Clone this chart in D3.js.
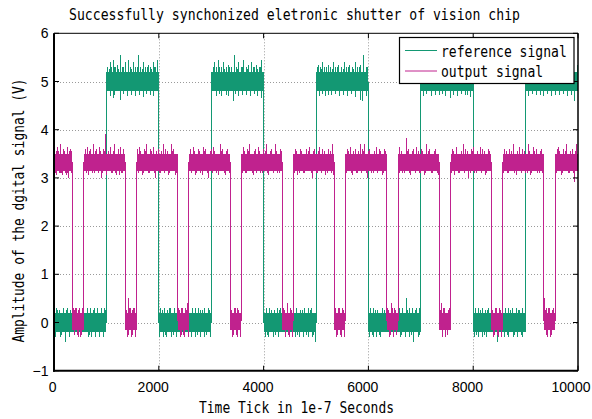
<!DOCTYPE html>
<html><head><meta charset="utf-8">
<script src="https://cdn.jsdelivr.net/npm/d3@7"></script>
<style>body{margin:0;background:#fff}svg{display:block}</style>
</head><body>
<script>
// ---------- data ----------
const titleText = "Successfully synchonized eletronic shutter of vision chip";
const xLabelText = "Time Tick in 1e-7 Seconds";
const yLabelText = "Amplitude of the dgital signal (V)";
const seriesNames = ["reference signal", "output signal"];
const xTicks = [0, 2000, 4000, 6000, 8000, 10000];
const xTickLabels = ["0", "2000", "4000", "6000", "8000", "10000"];
const yTicks = [-1, 0, 1, 2, 3, 4, 5, 6];
const yTickLabels = ["\u22121", "0", "1", "2", "3", "4", "5", "6"];

// reference signal: [start, end, bandLow, bandHigh]
const refSegments = [
  [0,1000,-0.2,0.2],[1000,2000,4.8,5.2],[2000,3000,-0.2,0.2],[3000,4000,4.8,5.2],
  [4000,5000,-0.2,0.2],[5000,6000,4.8,5.2],[6000,7000,-0.2,0.2],[7000,8000,4.8,5.2],
  [8000,9000,-0.2,0.2],[9000,10000,4.8,5.2]
];
// reference signal noise spikes: [t, value]
const refSpikes = [
  [0,5.1],
  [40,0.3],[110,0.25],[180,0.3],[260,0.3],[320,0.25],[640,0.3],[700,0.3],[760,0.25],[830,0.3],[900,0.3],[960,0.3],
  [30,-0.3],[120,-0.3],[210,-0.4],[290,-0.3],[650,-0.3],[720,-0.3],[800,-0.3],[870,-0.3],[940,-0.3],
  [70,0.25],[150,-0.25],[230,0.25],[680,-0.25],[780,0.3],[860,-0.25],[990,0.25],
  [1030,5.3],[1069,5.4],[1100,5.3],[1132,5.45],[1180,5.3],[1215,5.35],[1260,5.55],[1300,5.3],[1355,5.4],[1418,5.45],[1460,5.3],
  [1514,5.4],[1560,5.3],[1622,5.55],[1660,5.3],[1705,5.4],[1750,5.3],[1800,5.35],[1850,5.3],[1895,5.4],[1940,5.3],[1972,5.45],
  [1050,5.25],[1150,5.3],[1240,5.25],[1330,5.3],[1480,5.25],[1590,5.3],[1680,5.25],[1780,5.3],[1870,5.25],[1920,5.3],
  [1080,4.7],[1132,4.65],[1260,4.62],[1400,4.7],[1550,4.7],[1640,4.72],[1700,4.68],[1900,4.7],[1990,4.7],
  [1160,4.72],[1320,4.75],[1480,4.72],[1760,4.75],[1850,4.72],
  [2040,0.3],[2100,0.3],[2170,0.25],[2230,0.3],[2300,0.3],[2650,0.3],[2700,0.3],[2760,0.3],[2830,0.25],[2880,0.3],[2950,0.3],
  [2020,-0.3],[2090,-0.3],[2150,-0.3],[2250,-0.3],[2330,-0.3],[2620,-0.3],[2700,-0.3],[2800,-0.3],[2870,-0.3],[2980,-0.3],
  [2070,0.25],[2130,-0.25],[2200,0.3],[2280,-0.25],[2730,-0.25],[2790,0.25],[2910,-0.25],[2970,0.25],
  [3040,5.3],[3072,5.4],[3110,5.3],[3136,5.45],[3190,5.3],[3244,5.4],[3290,5.3],[3327,5.35],[3390,5.3],[3442,5.55],[3480,5.3],
  [3518,5.4],[3570,5.3],[3614,5.45],[3680,5.3],[3720,5.35],[3773,5.4],[3820,5.3],[3868,5.35],[3920,5.3],[3963,5.45],
  [3060,5.25],[3160,5.3],[3260,5.25],[3350,5.3],[3500,5.25],[3590,5.3],[3700,5.25],[3800,5.3],[3890,5.25],[3940,5.3],
  [3100,4.7],[3200,4.7],[3330,4.7],[3420,4.6],[3520,4.7],[3600,4.72],[3750,4.7],[3880,4.7],[3960,4.65],
  [3150,4.75],[3300,4.72],[3460,4.75],[3680,4.72],[3820,4.75],
  [4050,0.3],[4120,0.3],[4200,0.25],[4260,0.3],[4320,0.3],[4620,0.3],[4700,0.25],[4780,0.3],[4850,0.3],[4920,0.3],
  [4030,-0.3],[4100,-0.3],[4180,-0.3],[4280,-0.3],[4600,-0.3],[4680,-0.3],[4760,-0.3],[4850,-0.3],[4930,-0.3],[4981,-0.4],
  [4080,-0.25],[4150,0.25],[4230,-0.25],[4300,0.25],[4650,-0.25],[4740,0.25],[4810,-0.25],[4890,0.25],[4960,-0.25],
  [5040,5.35],[5080,5.3],[5130,5.4],[5170,5.3],[5230,5.35],[5280,5.3],[5330,5.4],[5380,5.3],[5430,5.35],[5490,5.3],
  [5540,5.4],[5590,5.3],[5640,5.35],[5700,5.3],[5750,5.4],[5800,5.3],[5850,5.35],[5916,5.55],[5960,5.3],
  [5020,5.3],[5110,5.25],[5200,5.3],[5320,5.25],[5410,5.3],[5520,5.25],[5620,5.3],[5720,5.25],[5830,5.3],[5980,5.3],
  [5060,4.7],[5180,4.7],[5300,4.72],[5450,4.7],[5600,4.7],[5760,4.68],[5840,4.62],[5880,4.6],[5960,4.7],
  [5120,4.75],[5240,4.72],[5380,4.75],[5520,4.72],[5680,4.75],
  [6040,0.3],[6100,0.3],[6180,0.25],[6260,0.3],[6600,0.3],[6660,0.3],[6718,0.5],[6780,0.3],[6850,0.3],[6920,0.3],[6980,0.3],
  [6020,-0.3],[6090,-0.3],[6160,-0.3],[6240,-0.3],[6620,-0.3],[6700,-0.3],[6780,-0.3],[6865,-0.4],[6950,-0.3],
  [6070,-0.25],[6140,0.25],[6210,-0.25],[6300,0.25],[6640,-0.25],[6740,0.25],[6820,-0.25],[6890,0.25],[6970,-0.25],
  [7040,5.3],[7120,5.4],[7250,5.35],[7400,5.3],[7550,5.4],[7700,5.35],[7880,5.3],
  [7050,4.7],[7200,4.7],[7350,4.72],[7480,4.7],[7560,4.65],[7700,4.7],[7850,4.72],[7950,4.68],
  [7100,4.75],[7280,4.72],[7420,4.75],[7630,4.72],[7780,4.75],[7900,4.72],
  [8040,0.3],[8100,0.3],[8170,0.3],[8240,0.25],[8300,0.3],[8620,0.3],[8680,0.3],[8750,0.3],[8820,0.3],[8880,0.25],[8950,0.3],
  [8030,-0.3],[8100,-0.3],[8180,-0.3],[8260,-0.3],[8460,-0.4],[8600,-0.3],[8680,-0.3],[8760,-0.3],[8850,-0.3],[8940,-0.3],
  [8070,-0.25],[8140,0.25],[8210,-0.25],[8280,0.25],[8650,-0.25],[8720,0.25],[8790,-0.25],[8860,0.25],[8920,-0.25],[8990,0.25],
  [9060,4.7],[9200,4.72],[9350,4.7],[9500,4.7],[9650,4.72],[9800,4.7],[9925,4.6],
  [9130,4.75],[9280,4.72],[9420,4.75],[9580,4.72],[9720,4.75],[9870,4.72],
  [9100,5.35],[9400,5.3],[9700,5.4],[9990,5.35]
];

// output signal: [start, end, bandLow, bandHigh]
const outSegments = [
  [0,350,3.15,3.5],[350,570,-0.15,0.2],[570,1355,3.15,3.5],[1355,1575,-0.15,0.2],
  [1575,2360,3.15,3.5],[2360,2575,-0.15,0.2],[2575,3360,3.15,3.5],[3360,3570,-0.15,0.2],
  [3570,4360,3.15,3.5],[4360,4570,-0.15,0.2],[4570,5350,3.15,3.5],[5350,5560,-0.15,0.2],
  [5560,6350,3.15,3.5],[6350,6570,-0.15,0.2],[6570,7350,3.15,3.5],[7350,7570,-0.15,0.2],
  [7570,8340,3.15,3.5],[8340,8560,-0.15,0.2],[8560,9345,3.15,3.5],[9345,9565,-0.15,0.2],
  [9565,10000,3.15,3.5]
];
const outSpikes = [
  [15,3.6],[40,3.05],[70,3.65],[100,3.1],[130,3.7],[160,3.05],[190,3.6],[220,3.1],[250,3.65],[280,3.0],[310,3.6],[335,3.1],
  [20,3.1],[55,3.55],[85,3.55],[115,3.1],[145,3.1],[175,3.55],[205,3.55],[235,3.05],[265,3.1],[295,3.55],[325,3.55],
  [600,3.6],[636,3.65],[660,3.05],[700,3.6],[751,3.7],[780,3.1],[820,3.6],[859,3.65],[900,3.0],[940,3.6],[980,3.92],[1010,3.05],
  [1069,3.65],[1110,3.1],[1164,3.7],[1200,3.05],[1230,3.6],[1260,3.65],[1300,3.1],[1330,3.6],
  [620,3.1],[680,3.55],[730,3.1],[800,3.55],[840,3.1],[880,3.55],[920,3.1],[960,3.55],[1040,3.55],[1090,3.1],[1140,3.55],
  [1180,3.1],[1250,3.05],[1280,3.1],[1320,3.55],
  [1600,3.6],[1641,3.65],[1680,3.05],[1720,3.6],[1769,3.7],[1800,3.1],[1850,3.6],[1896,3.65],[1940,3.0],[1990,3.6],
  [2040,3.1],[2087,3.7],[2130,3.6],[2180,3.05],[2246,3.7],[2290,3.6],[2330,3.1],
  [1620,3.1],[1660,3.55],[1700,3.1],[1740,3.55],[1830,3.1],[1870,3.55],[1920,3.1],[1960,3.55],[2010,3.1],[2060,3.55],
  [2110,3.1],[2160,3.55],[2210,3.1],[2270,3.55],[2310,3.05],
  [2600,3.6],[2659,3.65],[2700,3.05],[2750,3.6],[2800,3.1],[2850,3.65],[2900,3.6],[2950,3.0],[3000,3.6],[3041,3.65],
  [3100,3.1],[3168,3.7],[3220,3.6],[3270,3.05],[3320,3.6],
  [2620,3.1],[2680,3.55],[2720,3.1],[2780,3.55],[2830,3.05],[2880,3.55],[2930,3.1],[2980,3.55],[3020,3.1],[3070,3.55],
  [3130,3.05],[3200,3.55],[3250,3.1],[3300,3.55],[3340,3.1],
  [3613,3.65],[3650,3.1],[3700,3.6],[3740,3.7],[3800,3.05],[3850,3.6],[3899,3.65],[3950,3.1],[4000,3.6],[4059,3.7],
  [4100,3.05],[4160,3.6],[4218,3.7],[4270,3.1],[4320,3.6],
  [3590,3.1],[3630,3.55],[3680,3.1],[3720,3.55],[3780,3.1],[3820,3.55],[3870,3.1],[3920,3.55],[3980,3.1],[4030,3.55],
  [4080,3.1],[4130,3.55],[4190,3.1],[4240,3.55],[4300,3.1],[4340,3.55],
  [4600,3.6],[4650,3.05],[4700,3.6],[4760,3.1],[4820,3.6],[4885,3.65],[4930,3.0],[4980,3.6],[5030,3.1],[5076,3.65],
  [5130,3.6],[5180,3.05],[5240,3.6],[5290,3.1],[5318,3.7],
  [4590,3.1],[4630,3.55],[4680,3.1],[4730,3.55],[4790,3.1],[4850,3.55],[4910,3.1],[4960,3.55],[5010,3.1],[5050,3.55],
  [5100,3.1],[5160,3.55],[5210,3.1],[5270,3.55],[5330,3.05],
  [5600,3.6],[5649,3.65],[5700,3.05],[5750,3.6],[5800,3.1],[5840,3.7],[5890,3.6],[5935,3.7],[5980,3.0],[6030,3.6],
  [6090,3.1],[6158,3.65],[6210,3.6],[6260,3.05],[6310,3.6],
  [5580,3.1],[5620,3.55],[5670,3.1],[5720,3.55],[5780,3.1],[5820,3.55],[5870,3.1],[5910,3.55],[5960,3.1],[6010,3.55],
  [6060,3.1],[6120,3.55],[6180,3.1],[6240,3.55],[6290,3.1],[6330,3.55],
  [6603,3.65],[6650,3.1],[6718,3.82],[6760,3.6],[6810,3.05],[6860,3.6],[6921,3.65],[6970,3.1],[7020,3.6],[7070,3.05],
  [7112,3.7],[7170,3.6],[7230,3.1],[7290,3.6],[7330,3.05],
  [6590,3.1],[6630,3.55],[6680,3.1],[6740,3.55],[6790,3.1],[6840,3.55],[6890,3.1],[6950,3.55],[7000,3.1],[7040,3.55],
  [7090,3.1],[7140,3.55],[7200,3.1],[7260,3.55],[7310,3.1],
  [7610,3.6],[7650,3.05],[7685,3.65],[7740,3.1],[7812,3.7],[7860,3.6],[7910,3.0],[7960,3.6],[8002,3.65],[8060,3.1],
  [8130,3.65],[8180,3.6],[8230,3.05],[8290,3.6],
  [7590,3.1],[7630,3.55],[7710,3.1],[7770,3.55],[7840,3.1],[7890,3.55],[7940,3.1],[7980,3.55],[8030,3.1],[8090,3.55],
  [8150,3.1],[8210,3.55],[8260,3.1],[8320,3.55],
  [8600,3.6],[8650,3.1],[8700,3.6],[8766,3.7],[8820,3.05],[8893,3.65],[8950,3.6],[9000,3.1],[9052,3.7],[9100,3.05],
  [9148,3.65],[9200,3.6],[9260,3.1],[9310,3.6],
  [8580,3.1],[8630,3.55],[8680,3.1],[8730,3.55],[8790,3.1],[8850,3.55],[8920,3.1],[8980,3.55],[9030,3.1],[9080,3.55],
  [9120,3.1],[9170,3.55],[9230,3.1],[9280,3.55],[9330,3.1],
  [9600,3.6],[9624,3.65],[9680,3.05],[9730,3.6],[9784,3.7],[9840,3.1],[9890,3.6],[9940,2.92],[9975,3.7],
  [9590,3.1],[9650,3.55],[9710,3.1],[9760,3.55],[9810,3.1],[9860,3.55],[9910,3.1],[9960,3.55],
  [370,0.3],[400,-0.25],[430,0.3],[460,-0.3],[490,0.3],[520,-0.25],[550,0.3],
  [385,0.25],[415,0.3],[445,-0.25],[475,0.25],[505,-0.3],[535,0.25],
  [1370,0.3],[1400,-0.3],[1430,0.5],[1460,0.3],[1490,-0.25],[1520,0.3],[1555,-0.3],
  [1385,0.25],[1415,-0.25],[1445,0.3],[1475,-0.3],[1505,0.25],[1540,0.3],
  [2380,0.3],[2410,-0.3],[2440,0.3],[2470,-0.25],[2500,0.3],[2545,0.4],[2560,-0.3],
  [2395,0.25],[2425,-0.25],[2455,0.3],[2485,-0.3],[2520,0.25],
  [3375,0.3],[3410,-0.3],[3440,0.3],[3480,-0.25],[3510,0.3],[3550,-0.3],
  [3390,0.25],[3425,-0.25],[3460,0.3],[3495,-0.3],[3530,0.25],
  [4375,0.3],[4410,-0.3],[4450,0.4],[4480,-0.25],[4510,0.3],[4550,-0.3],
  [4390,0.25],[4425,-0.25],[4465,0.3],[4495,-0.3],[4530,0.25],
  [5365,0.3],[5400,-0.3],[5430,0.3],[5470,-0.25],[5500,0.3],[5540,-0.3],
  [5380,0.25],[5415,-0.25],[5450,0.3],[5485,-0.3],[5520,0.25],
  [6365,0.3],[6400,-0.3],[6440,0.4],[6470,-0.3],[6500,0.3],[6540,-0.25],
  [6380,0.25],[6420,-0.25],[6455,0.3],[6485,-0.3],[6520,0.25],
  [7365,0.3],[7390,0.4],[7420,-0.3],[7460,0.3],[7500,-0.25],[7540,0.3],
  [7380,0.25],[7405,-0.25],[7440,0.3],[7480,-0.3],[7520,0.25],
  [8355,0.3],[8390,-0.3],[8430,0.3],[8470,-0.25],[8500,0.3],[8540,-0.3],
  [8370,0.25],[8410,-0.25],[8450,0.3],[8485,-0.3],[8520,0.25],
  [9357,0.5],[9390,0.3],[9420,-0.3],[9460,0.3],[9500,-0.25],[9540,0.3],
  [9375,0.25],[9405,-0.25],[9440,0.3],[9480,-0.3],[9520,0.25]
];

// ---------- drawing ----------
const W = 592, H = 419;
const colors = ["#139873", "#c0228e"];
const x = d3.scaleLinear().domain([0, 10000]).range([54, 578]);
const y = d3.scaleLinear().domain([-1, 6]).range([370.7, 33.3]);

const svg = d3.select("body").append("svg").attr("width", W).attr("height", H);
svg.append("rect").attr("width", W).attr("height", H).attr("fill", "#fff");

// grid
const grid = svg.append("g").attr("stroke", "#9a9a9a").attr("stroke-width", 1).attr("stroke-dasharray", "1,2");
grid.selectAll(".gx").data(xTicks.slice(1, -1)).join("line")
  .attr("x1", d => Math.round(x(d)) + 0.5).attr("x2", d => Math.round(x(d)) + 0.5)
  .attr("y1", y(6)).attr("y2", y(-1));
grid.selectAll(".gy").data(yTicks.slice(1, -1)).join("line")
  .attr("y1", d => Math.round(y(d)) + 0.5).attr("y2", d => Math.round(y(d)) + 0.5)
  .attr("x1", x(0)).attr("x2", x(10000));

function drawSeries(segs, spikes, color) {
  const g = svg.append("g").attr("shape-rendering", "crispEdges");
  g.selectAll("rect").data(segs).join("rect")
    .attr("x", d => x(d[0])).attr("width", d => x(d[1]) - x(d[0]))
    .attr("y", d => y(d[3])).attr("height", d => y(d[2]) - y(d[3]))
    .attr("fill", color);
  const edges = segs.slice(1).map((d, i) => [d[0], (segs[i][2] + segs[i][3]) / 2, (d[2] + d[3]) / 2]);
  g.selectAll("line.e").data(edges).join("line").attr("class", "e")
    .attr("x1", d => x(d[0])).attr("x2", d => x(d[0]))
    .attr("y1", d => y(d[1])).attr("y2", d => y(d[2]))
    .attr("stroke", color).attr("stroke-width", 1);
  const findSeg = t => segs.find(s => t >= s[0] && t <= s[1]) || segs[0];
  g.selectAll("line.s").data(spikes).join("line").attr("class", "s")
    .attr("x1", d => x(d[0])).attr("x2", d => x(d[0]))
    .attr("y1", d => { const s = findSeg(d[0]); return y((s[2] + s[3]) / 2); })
    .attr("y2", d => y(d[1]))
    .attr("stroke", color).attr("stroke-width", 1);
}
drawSeries(refSegments, refSpikes, colors[0]);
drawSeries(outSegments, outSpikes, colors[1]);

// axes frame
const fr = svg.append("g").attr("stroke", "#000").attr("fill", "none");
fr.append("line").attr("x1", x(0)).attr("x2", x(10000)).attr("y1", y(6)).attr("y2", y(6)).attr("stroke-width", 1);
fr.append("line").attr("x1", x(10000)).attr("x2", x(10000)).attr("y1", y(6)).attr("y2", y(-1)).attr("stroke-width", 1.5);
fr.append("line").attr("x1", x(0)).attr("x2", x(0)).attr("y1", y(6)).attr("y2", y(-1) + 1).attr("stroke-width", 2);
fr.append("line").attr("x1", x(0) - 1).attr("x2", x(10000)).attr("y1", y(-1)).attr("y2", y(-1)).attr("stroke-width", 2);
// inner ticks on all sides
xTicks.forEach(t => {
  fr.append("line").attr("x1", x(t)).attr("x2", x(t)).attr("y1", y(-1)).attr("y2", y(-1) - 5);
  fr.append("line").attr("x1", x(t)).attr("x2", x(t)).attr("y1", y(6)).attr("y2", y(6) + 5);
});
yTicks.forEach(t => {
  fr.append("line").attr("y1", y(t)).attr("y2", y(t)).attr("x1", x(0)).attr("x2", x(0) + 5);
  fr.append("line").attr("y1", y(t)).attr("y2", y(t)).attr("x1", x(10000)).attr("x2", x(10000) - 5);
});

// tick labels
const tickFont = "'Liberation Sans', Arial, sans-serif";
svg.append("g").selectAll("text").data(xTicks).join("text")
  .attr("x", (d, i) => x(d) - 1.4 * xTickLabels[i].length)
  .attr("y", 391.7).attr("text-anchor", "middle")
  .attr("font-family", tickFont).attr("font-size", 14).attr("fill", "#000")
  .text((d, i) => xTickLabels[i]);
svg.append("g").selectAll("text").data(yTicks).join("text")
  .attr("x", 48.5).attr("y", d => y(d) + 5).attr("text-anchor", "end")
  .attr("font-family", tickFont).attr("font-size", 14).attr("fill", "#000")
  .text((d, i) => yTickLabels[i]);

// title and axis labels
const monoFont = "'DejaVu Sans Mono', monospace";
svg.append("text").attr("x", 69).attr("y", 20).attr("font-family", monoFont).attr("font-size", 15)
  .attr("textLength", 451).attr("lengthAdjust", "spacingAndGlyphs").text(titleText);
svg.append("text").attr("x", 199).attr("y", 413).attr("font-family", monoFont).attr("font-size", 15)
  .attr("textLength", 195).attr("lengthAdjust", "spacingAndGlyphs").text(xLabelText);
svg.append("text").attr("transform", "translate(23.5,342.5) rotate(-90)")
  .attr("font-family", monoFont).attr("font-size", 15)
  .attr("textLength", 264).attr("lengthAdjust", "spacingAndGlyphs").text(yLabelText);

// legend
const lg = svg.append("g");
lg.append("rect").attr("x", 399.5).attr("y", 37.5).attr("width", 174.5).attr("height", 46)
  .attr("fill", "#fff").attr("stroke", "#000").attr("stroke-width", 1.2);
const legY = [50.5, 71];
seriesNames.forEach((name, i) => {
  lg.append("line").attr("x1", 405).attr("x2", 437).attr("y1", legY[i]).attr("y2", legY[i])
    .attr("stroke", colors[i]).attr("stroke-width", 1);
  lg.append("text").attr("x", 441).attr("y", legY[i] + 6).attr("font-family", monoFont).attr("font-size", 15)
    .attr("textLength", name.length * 7.86).attr("lengthAdjust", "spacingAndGlyphs").text(name);
});
</script>
</body></html>
